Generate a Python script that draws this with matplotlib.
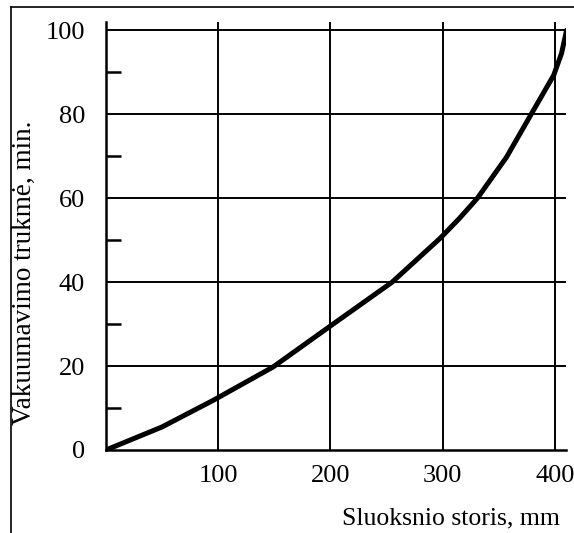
import matplotlib
matplotlib.use("Agg")
import matplotlib.pyplot as plt
from matplotlib.lines import Line2D

# curve
thickness = [0, 50, 96, 149, 195, 255, 298, 315, 331, 357, 380, 399, 406, 410.5]
duration = [0, 5.5, 11.9, 19.8, 28.6, 40, 50.5, 55.2, 60, 69.8, 80.5, 89.3, 94.5, 100]

x_ticks = [100, 200, 300, 400]
y_ticks = [0, 20, 40, 60, 80, 100]
y_minor = [10, 30, 50, 70, 90]

plt.rcParams['font.family'] = ['Liberation Serif', 'DejaVu Serif']

fig = plt.figure(figsize=(5.74, 5.33), dpi=100)
ax = fig.add_axes([106 / 574, 83 / 533, 460 / 574, 428 / 533])

ax.set_xlim(0, 410)
ax.set_ylim(0, 102)

# grid: vertical lines run up past 100, horizontal ones past 400
for xv in x_ticks:
    ax.axvline(xv, color='black', lw=1.4, zorder=1)
for yv in y_ticks[1:]:
    ax.axhline(yv, color='black', lw=1.4, zorder=1)

ax.plot(thickness, duration, color='black', lw=3.6, solid_capstyle='round',
        solid_joinstyle='round', zorder=3)

ax.spines['top'].set_visible(False)
ax.spines['right'].set_visible(False)
ax.spines['left'].set_linewidth(1.8)
ax.spines['bottom'].set_linewidth(1.8)

ax.set_xticks(x_ticks)
ax.set_yticks(y_ticks)
ax.set_yticks(y_minor, minor=True)
ax.tick_params(axis='both', which='major', length=0, labelsize=19)
ax.tick_params(axis='x', which='major', pad=11)
ax.tick_params(axis='y', which='major', pad=15)
ax.tick_params(axis='y', which='minor', direction='in', length=11, width=1.8)

ax.set_ylabel('Vakuumavimo trukmė, min.', fontsize=19.5)
ax.yaxis.set_label_coords(-0.15, 0.415)
fig.text(560 / 574, 1 - 518 / 533, 'Sluoksnio storis, mm', fontsize=18.5,
         ha='right', va='center')

# outer frame of the scanned figure
fig.add_artist(Line2D([11 / 574, 11 / 574], [0, 1 - 7 / 533], color='black', lw=1.2,
                      transform=fig.transFigure))
fig.add_artist(Line2D([11 / 574, 1], [1 - 7 / 533, 1 - 7 / 533], color='black', lw=1.2,
                      transform=fig.transFigure))

fig.savefig('out.png', dpi=100)
